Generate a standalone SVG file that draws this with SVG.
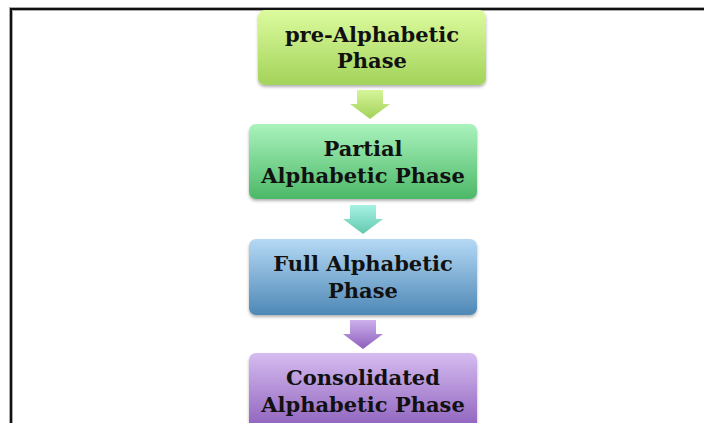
<svg xmlns="http://www.w3.org/2000/svg" width="704" height="423" viewBox="0 0 704 423">
<defs>
<linearGradient id="g1" x1="0" y1="0" x2="0" y2="1"><stop offset="0" stop-color="#dcfb9e"/><stop offset="1" stop-color="#a3d35a"/></linearGradient>
<linearGradient id="g2" x1="0" y1="0" x2="0" y2="1"><stop offset="0" stop-color="#aaf3bd"/><stop offset="1" stop-color="#4cb867"/></linearGradient>
<linearGradient id="g3" x1="0" y1="0" x2="0" y2="1"><stop offset="0" stop-color="#b5d9f5"/><stop offset="1" stop-color="#4e88b6"/></linearGradient>
<linearGradient id="g4" x1="0" y1="0" x2="0" y2="1"><stop offset="0" stop-color="#d6bcf0"/><stop offset="1" stop-color="#8a5cba"/></linearGradient>
<linearGradient id="a1" x1="0" y1="0" x2="0" y2="1"><stop offset="0" stop-color="#d6f59a"/><stop offset="1" stop-color="#a2d25a"/></linearGradient>
<linearGradient id="a2" x1="0" y1="0" x2="0" y2="1"><stop offset="0" stop-color="#a8f2e4"/><stop offset="1" stop-color="#62c9ae"/></linearGradient>
<linearGradient id="a3" x1="0" y1="0" x2="0" y2="1"><stop offset="0" stop-color="#cdb0ec"/><stop offset="1" stop-color="#8c5fbd"/></linearGradient>
<filter id="sh" x="-10%" y="-10%" width="120%" height="130%"><feDropShadow dx="0" dy="2" stdDeviation="1.5" flood-color="#000" flood-opacity="0.3"/></filter>
</defs>
<style>
.t{font-family:"DejaVu Serif","Liberation Serif",serif;font-weight:bold;font-size:21px;fill:#111;text-anchor:middle}
.box{filter:url(#sh)}
</style>
<rect width="704" height="423" fill="#fff"/>
<g id="frame">
<path d="M11,423 V9 H704" fill="none" stroke="#aaa" stroke-width="4"/>
<path d="M11,423 V9 H704" fill="none" stroke="#111" stroke-width="2"/>
</g>
<g id="connectors">
<path d="M357,90 H383 V104 H390 L370,119 L350,104 H357 Z" fill="url(#a1)"/>
<path d="M350,205 H376 V219 H383 L363,234 L343,219 H350 Z" fill="url(#a2)"/>
<path d="M350,320 H376 V334 H383 L363,349 L343,334 H350 Z" fill="url(#a3)"/>
</g>
<g id="n1">
<rect class="box" x="258" y="10" width="228" height="75" rx="7" fill="url(#g1)"/>
<text class="t" x="372" y="42">pre-Alphabetic</text>
<text class="t" x="372" y="68">Phase</text>
</g>
<g id="n2">
<rect class="box" x="249" y="124" width="228" height="75" rx="7" fill="url(#g2)"/>
<text class="t" x="363" y="156">Partial</text>
<text class="t" x="363" y="183">Alphabetic Phase</text>
</g>
<g id="n3">
<rect class="box" x="249" y="239" width="228" height="76" rx="7" fill="url(#g3)"/>
<text class="t" x="363" y="271">Full Alphabetic</text>
<text class="t" x="363" y="298">Phase</text>
</g>
<g id="n4">
<rect class="box" x="249" y="353" width="228" height="80" rx="7" fill="url(#g4)"/>
<text class="t" x="363" y="385">Consolidated</text>
<text class="t" x="363" y="412">Alphabetic Phase</text>
</g>
</svg>
